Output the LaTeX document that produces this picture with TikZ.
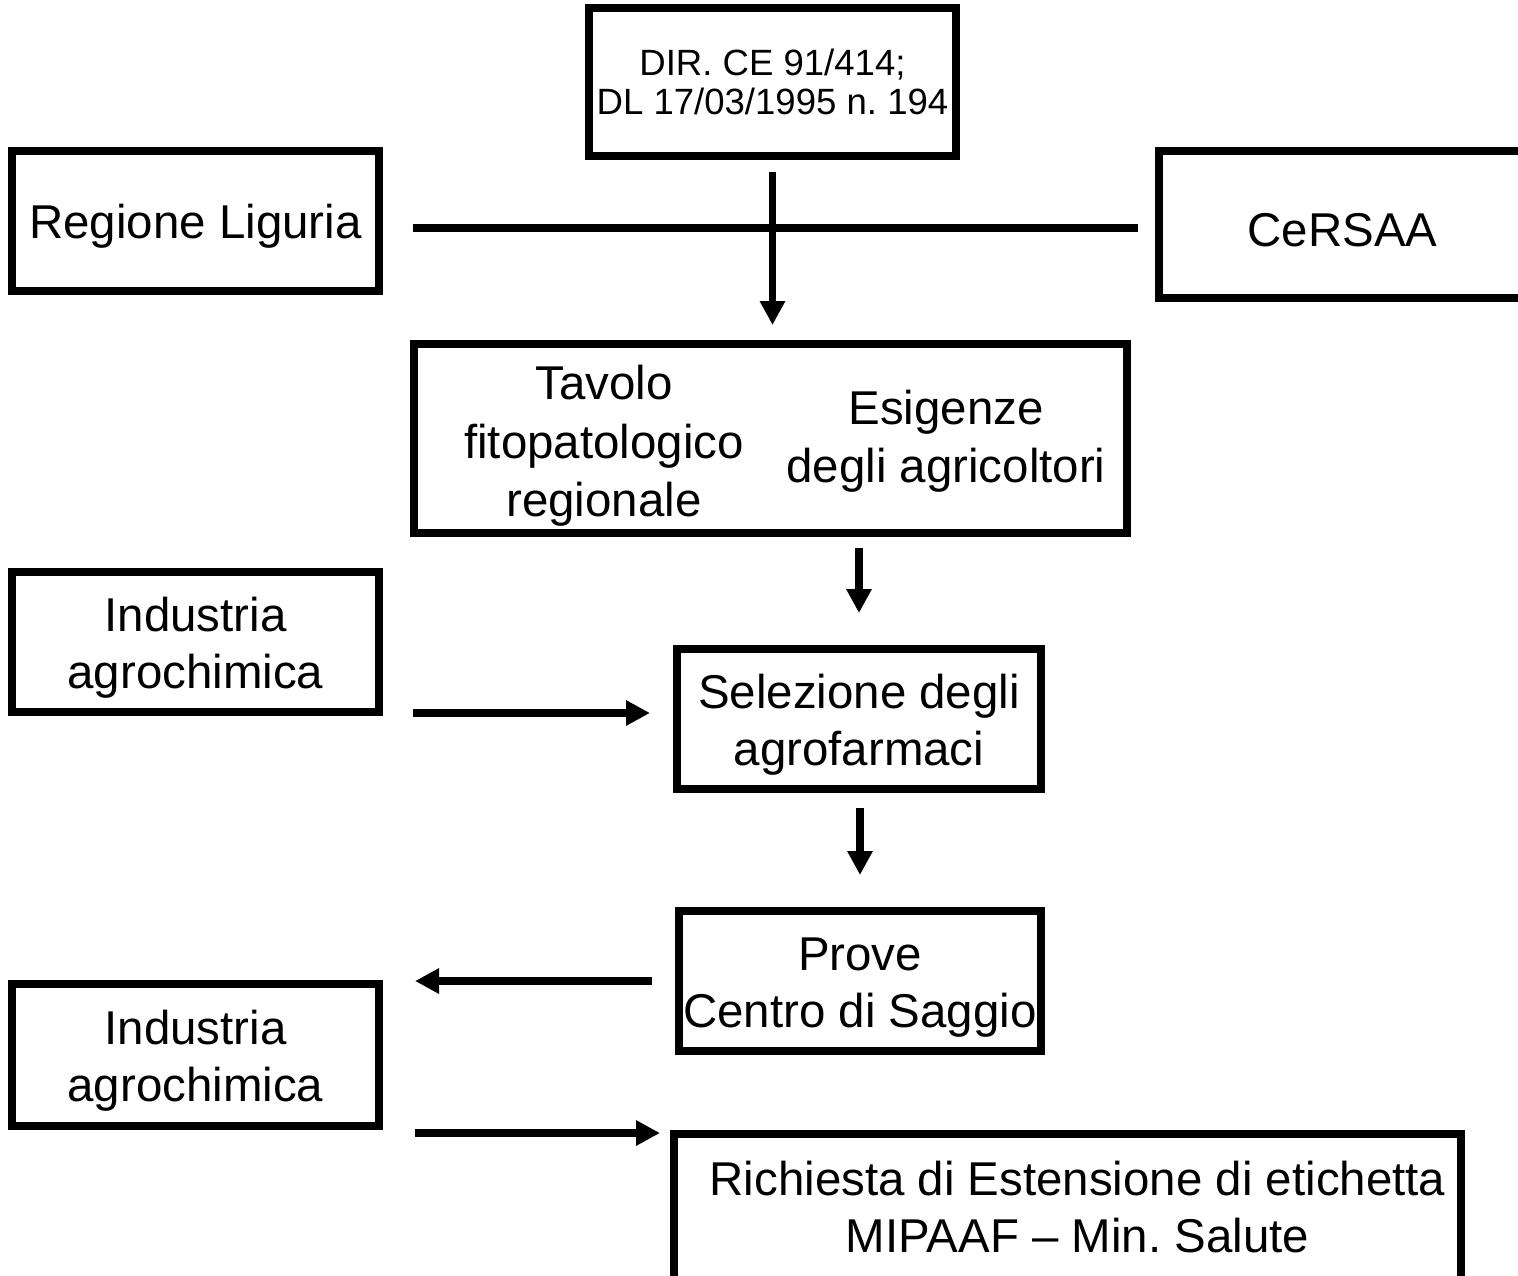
\documentclass[tikz,border=0pt]{standalone}
\usepackage{fontspec}
\setmainfont{Liberation Sans}
\usetikzlibrary{arrows.meta}
\frenchspacing
\newcommand{\boxstrut}{\rule{0pt}{13pt}}

\begin{document}
\begin{tikzpicture}[entity/.style={draw=black, line width=0.08cm, align=center, inner sep=0pt, minimum width=3.67cm, minimum height=1.40cm, font=\fontsize{13.5}{16.4}\selectfont},
  words/.style={align=center, inner sep=0pt, font=\fontsize{13.5}{16.6}\selectfont},
  flow/.style={line width=0.075cm, -{Triangle[length=0.24cm, width=0.24cm]}}]
	\useasboundingbox (0, 0) rectangle (15.18, -12.75);
	\clip (0, 0) rectangle (15.18, -12.75);

	\node[entity, minimum height=1.48cm, font=\fontsize{10.4}{11.1}\selectfont] (dir) at (7.725, -0.82) {DIR. CE 91/414;\\DL 17/03/1995 n. 194};
	\node[entity] (reg) at (1.955, -2.21) {\boxstrut Regione Liguria};
	\node[entity, minimum height=1.47cm] (cer) at (13.425, -2.24) {\boxstrut CeRSAA};

	\node[entity, minimum width=7.13cm, minimum height=1.89cm] (tavolo) at (7.705, -4.385) {};
	\node[words] (tavolo-left) at (6.04, -4.46) {Tavolo\\fitopatologico\\regionale};
	\node[words] (tavolo-right) at (9.46, -4.41) {Esigenze\\degli agricoltori};

	\node[entity] (ind-top) at (1.955, -6.42) {\boxstrut Industria\\agrochimica};
	\node[entity, minimum width=3.64cm] (sel) at (8.59, -7.19) {\boxstrut Selezione degli\\agrofarmaci};
	\node[entity, minimum width=3.62cm] (prove) at (8.60, -9.81) {\boxstrut Prove\\Centro di Saggio};
	\node[entity, minimum height=1.42cm] (ind-bottom) at (1.955, -10.55) {\boxstrut Industria\\agrochimica};
	\node[entity, minimum width=7.87cm, minimum height=1.46cm] (rich) at (10.675, -12.07) {\hspace*{0.2cm}Richiesta di Estensione di etichetta\\\hspace*{0.2cm}MIPAAF -- Min. Salute};

	\draw[line width=0.08cm, shorten <=0.30cm, shorten >=0.17cm] ([yshift=-0.07cm]reg.east) -- ([yshift=-0.07cm]reg.east -| cer.west);
	\draw[flow, shorten <=0.12cm, shorten >=0.15cm] (dir.south) -- (dir.south |- tavolo.north);
	\draw[flow, shorten <=0.11cm, shorten >=0.32cm] (tavolo.south -| sel.north) -- (sel.north);
	\draw[flow, shorten <=0.30cm, shorten >=0.23cm] ([yshift=0.06cm]sel.west -| ind-top.east) -- ([yshift=0.06cm]sel.west);
	\draw[flow, shorten <=0.15cm, shorten >=0.32cm] (sel.south -| prove.north) -- (prove.north);
	\draw[flow, shorten <=0.23cm, shorten >=0.32cm] (prove.west) -- (prove.west -| ind-bottom.east);
	\draw[flow, shorten <=0.32cm, shorten >=0.10cm] ([yshift=-0.03cm]rich.north west -| ind-bottom.east) -- ([yshift=-0.03cm]rich.north west);
\end{tikzpicture}
\end{document}
